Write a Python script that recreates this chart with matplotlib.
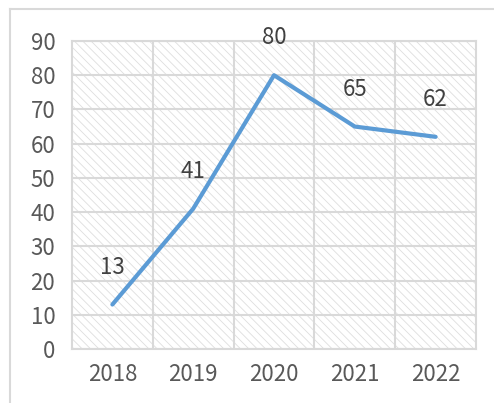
import matplotlib
matplotlib.use('Agg')
import matplotlib.pyplot as plt
from matplotlib.patches import Rectangle
from matplotlib.lines import Line2D

years = ['2018', '2019', '2020', '2021', '2022']
values = [13, 41, 80, 65, 62]
yticks = [0, 10, 20, 30, 40, 50, 60, 70, 80, 90]

plt.rcParams['font.family'] = ['Noto Sans CJK SC', 'DejaVu Sans']
plt.rcParams['hatch.linewidth'] = 0.6

grid_c = '#d9d9d9'
fig = plt.figure(figsize=(4.94, 4.03), dpi=100)
ax = fig.add_axes([72 / 494, 1 - 349 / 403, 404 / 494, 308 / 403])

x = list(range(len(years)))
ax.set_xlim(-0.5, len(years) - 0.5)
ax.set_ylim(0, 90)

# hatched background
ax.add_patch(Rectangle((0, 0), 1, 1, transform=ax.transAxes, fill=False,
                       hatch='\\\\\\\\', edgecolor='#dedede', lw=0, zorder=0))

ax.set_yticks(yticks)
ax.set_xticks(x)
ax.set_xticklabels(years)
ax.set_xticks([i + 0.5 for i in x[:-1]], minor=True)
ax.grid(axis='y', color=grid_c, lw=1.5, zorder=1)
ax.grid(axis='x', which='minor', color=grid_c, lw=1.5, zorder=1)
ax.tick_params(which='both', length=0)
ax.tick_params(axis='y', pad=12, labelsize=16, labelcolor='#595959')
ax.tick_params(axis='x', pad=10, labelsize=16, labelcolor='#595959')
for s in ax.spines.values():
    s.set_color(grid_c)
    s.set_linewidth(1.5)

ax.plot(x, values, color='#5b9bd5', lw=3, solid_capstyle='round', zorder=3)
for xi, v in zip(x, values):
    ax.annotate(str(v), (xi, v), xytext=(0, 27), textcoords='offset points',
                ha='center', va='center', fontsize=16, color='#404040',
                annotation_clip=False)

# outer chart border (left and top)
fig.add_artist(Line2D([10 / 494, 10 / 494], [0, 1 - 9 / 403], color=grid_c, lw=1.5))
fig.add_artist(Line2D([10 / 494, 1], [1 - 9 / 403, 1 - 9 / 403], color=grid_c, lw=1.5))

fig.savefig('out.png', dpi=100)
